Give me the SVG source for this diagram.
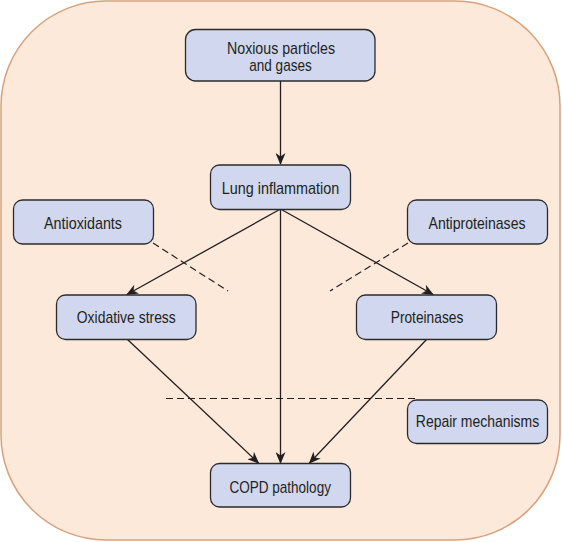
<svg xmlns="http://www.w3.org/2000/svg" width="562" height="542" viewBox="0 0 562 542">
<defs>
<style>
.bg{fill:#fde9da;stroke:#d6a27c;stroke-width:1.5}
.box{fill:#d0d7ee;stroke:#2b2b2b;stroke-width:1.3}
.t{font-family:"Liberation Sans",Arial,sans-serif;font-size:17px;fill:#231f20;text-anchor:middle}
.c{stroke:#231f20;stroke-width:1.3;fill:none}
.d{stroke:#231f20;stroke-width:1.2;fill:none;stroke-dasharray:7 4}
</style>
<marker id="ah" viewBox="0 0 12 10" refX="11" refY="5" markerWidth="12" markerHeight="10" markerUnits="userSpaceOnUse" orient="auto">
<path d="M0,0 L12,5 L0,10 L3.5,5 z" fill="#231f20"/>
</marker>
</defs>
<rect class="bg" x="1" y="1" width="559" height="539" rx="105" ry="105"/>
<g id="connectors">
<line class="c" x1="280.5" y1="81" x2="280.5" y2="164" marker-end="url(#ah)"/>
<line class="c" x1="280.5" y1="209" x2="127" y2="294.5" marker-end="url(#ah)"/>
<line class="c" x1="280.5" y1="209" x2="433" y2="294.5" marker-end="url(#ah)"/>
<line class="c" x1="280.5" y1="209" x2="280.5" y2="463" marker-end="url(#ah)"/>
<line class="c" x1="127" y1="339" x2="258.5" y2="463" marker-end="url(#ah)"/>
<line class="c" x1="427" y1="339" x2="309.5" y2="463" marker-end="url(#ah)"/>
<line class="d" x1="153" y1="243" x2="228" y2="291"/>
<line class="d" x1="408" y1="243" x2="330" y2="291"/>
<line class="d" x1="166" y1="398.5" x2="417" y2="398.5"/>
</g>
<g id="noxious">
<rect class="box" x="185.5" y="29.5" width="189.5" height="51.5" rx="10"/>
<text class="t" x="281" y="53.5" textLength="108" lengthAdjust="spacingAndGlyphs">Noxious particles</text>
<text class="t" x="280.5" y="71" textLength="62.5" lengthAdjust="spacingAndGlyphs">and gases</text>
</g>
<g id="lung">
<rect class="box" x="210.5" y="165" width="140" height="44.5" rx="9"/>
<text class="t" x="280.5" y="193.5" textLength="117.5" lengthAdjust="spacingAndGlyphs">Lung inflammation</text>
</g>
<g id="antioxidants">
<rect class="box" x="13.5" y="200" width="140" height="44" rx="9"/>
<text class="t" x="83" y="229" textLength="78" lengthAdjust="spacingAndGlyphs">Antioxidants</text>
</g>
<g id="antiproteinases">
<rect class="box" x="407.5" y="200" width="140" height="44" rx="9"/>
<text class="t" x="477" y="229" textLength="97" lengthAdjust="spacingAndGlyphs">Antiproteinases</text>
</g>
<g id="oxidative">
<rect class="box" x="56.5" y="295" width="139.5" height="44.5" rx="9"/>
<text class="t" x="126.3" y="323" textLength="99" lengthAdjust="spacingAndGlyphs">Oxidative stress</text>
</g>
<g id="proteinases">
<rect class="box" x="356.5" y="295" width="140" height="44.5" rx="9"/>
<text class="t" x="427" y="323" textLength="72.5" lengthAdjust="spacingAndGlyphs">Proteinases</text>
</g>
<g id="repair">
<rect class="box" x="407.5" y="400" width="140" height="43.5" rx="9"/>
<text class="t" transform="translate(477.5 427) scale(0.822 1)" x="0" y="0">Repair mechanisms</text>
</g>
<g id="copd">
<rect class="box" x="210.5" y="463.5" width="140" height="43.5" rx="9"/>
<text class="t" x="280.2" y="492.5" textLength="101.5" lengthAdjust="spacingAndGlyphs">COPD pathology</text>
</g>
</svg>
